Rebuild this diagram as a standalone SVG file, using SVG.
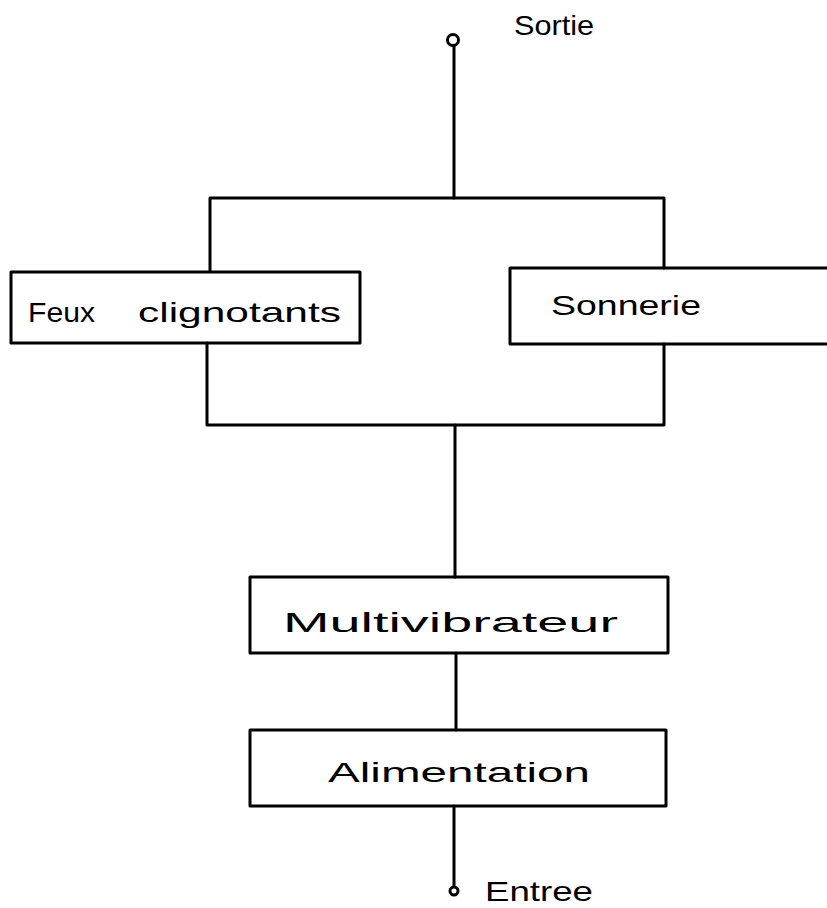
<svg xmlns="http://www.w3.org/2000/svg" width="827" height="908" viewBox="0 0 827 908">
  <style>
    .box { fill: none; stroke: #000; stroke-width: 3; stroke-linejoin: round; }
    .wire { fill: none; stroke: #000; stroke-width: 3; stroke-linecap: round; stroke-linejoin: round; }
    .term { fill: #fff; stroke: #000; stroke-width: 3; }
    .lbl { font-family: "Liberation Sans", Arial, sans-serif; font-size: 28px; fill: #000; }
  </style>
  <rect width="827" height="908" fill="#fff"/>

  <g id="connectors">
    <!-- output terminal lead -->
    <path class="wire" d="M454 46 V198"/>
    <!-- top bus to both outputs -->
    <path class="wire" d="M210 271 V198 H664 V268"/>
    <!-- bottom bus from both blocks -->
    <path class="wire" d="M207 343 V425 H664 V344"/>
    <!-- bus to multivibrator -->
    <path class="wire" d="M455 425 V577"/>
    <!-- multivibrator to power supply -->
    <path class="wire" d="M456 653 V730"/>
    <!-- input terminal lead -->
    <path class="wire" d="M454 806 V887"/>
  </g>

  <g id="sortie">
    <circle class="term" cx="453" cy="40" r="5.5"/>
    <text class="lbl" x="514" y="35" textLength="80" lengthAdjust="spacingAndGlyphs">Sortie</text>
  </g>

  <g id="feux">
    <rect class="box" x="11" y="272" width="349" height="71"/>
    <text class="lbl" x="28" y="322" textLength="67" lengthAdjust="spacingAndGlyphs">Feux</text>
    <text class="lbl" x="138" y="322" textLength="203" lengthAdjust="spacingAndGlyphs">clignotants</text>
  </g>

  <g id="sonnerie">
    <rect class="box" x="510" y="268" width="330" height="76"/>
    <text class="lbl" x="551" y="315" textLength="150" lengthAdjust="spacingAndGlyphs">Sonnerie</text>
  </g>

  <g id="multivibrateur">
    <rect class="box" x="250" y="577" width="418" height="76"/>
    <text class="lbl" x="283" y="632" textLength="335" lengthAdjust="spacingAndGlyphs">Multivibrateur</text>
  </g>

  <g id="alimentation">
    <rect class="box" x="250" y="730" width="416" height="76"/>
    <text class="lbl" x="328" y="782" textLength="262" lengthAdjust="spacingAndGlyphs">Alimentation</text>
  </g>

  <g id="entree">
    <circle class="term" cx="454" cy="891" r="4"/>
    <text class="lbl" x="485" y="901" textLength="108" lengthAdjust="spacingAndGlyphs">Entree</text>
  </g>
</svg>
